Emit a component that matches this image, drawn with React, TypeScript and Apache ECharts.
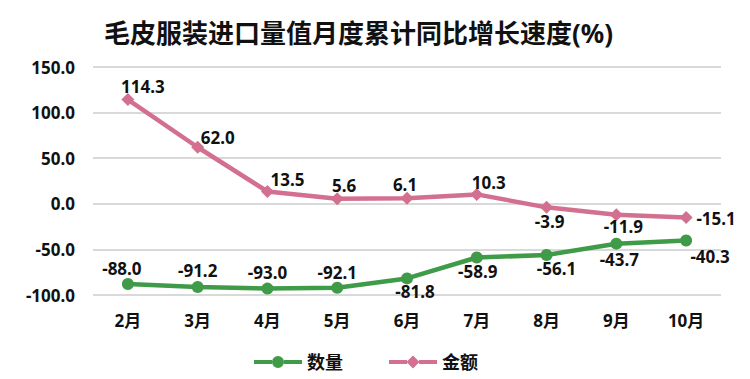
import React, { useEffect, useRef } from "react";
import * as echarts from "echarts";

const categories = ["2月", "3月", "4月", "5月", "6月", "7月", "8月", "9月", "10月"];
const quantity = [-88.0, -91.2, -93.0, -92.1, -81.8, -58.9, -56.1, -43.7, -40.3];
const amount = [114.3, 62.0, 13.5, 5.6, 6.1, 10.3, -3.9, -11.9, -15.1];
const seriesNames = ["数量", "金额"];
const titleText = "毛皮服装进口量值月度累计同比增长速度(%)";

const FONT = "'Noto Sans', 'Noto Sans CJK SC', sans-serif";
const GREEN = "#3f9b48";
const PINK = "#d3708f";

// label centre offsets from each point (styling, not data)
const qOffset: [number, number][] = [
  [-6, -16], [0, -16], [0, -16], [0, -15], [8, 13], [1, 14], [10, 14], [3, 16], [24, 16],
];
const aOffset: [number, number][] = [
  [15, -13], [20, -10], [20, -12], [7, -13], [-2, -14], [12, -12], [3, 14], [7, 12], [30, 1],
];

const greenIcon =
  "path://M0,5 H18 V9 H0 Z M30,5 H48 V9 H30 Z M18,7 A6,6 0 1,1 30,7 A6,6 0 1,1 18,7 Z";
const pinkIcon =
  "path://M0,5 H18 V9 H0 Z M30,5 H48 V9 H30 Z M24,0.5 L30.5,7 L24,13.5 L17.5,7 Z";

export default function App() {
  const ref = useRef<HTMLDivElement>(null);
  useEffect(() => {
    const chart = echarts.init(ref.current!, null, { renderer: "svg" });
    const mk = (vals: number[], off: [number, number][]) =>
      vals.map((v, i) => ({
        value: v,
        label: { position: "inside", offset: off[i] },
      }));
    const labelStyle = {
      show: true,
      fontFamily: FONT,
      fontSize: 17,
      fontWeight: "bold",
      color: "#111",
      formatter: (p: any) => Number(p.value).toFixed(1),
    };
    chart.setOption({
      animation: false,
      title: {
        text: titleText,
        left: 99,
        top: 15,
        textStyle: { fontFamily: FONT, fontSize: 26, fontWeight: "bold", color: "#111" },
      },
      legend: {
        top: 348,
        left: 249,
        itemGap: 46,
        itemWidth: 48,
        itemHeight: 14,
        textStyle: { fontFamily: FONT, fontSize: 18, fontWeight: "bold", color: "#111" },
        data: [
          { name: seriesNames[0], icon: greenIcon, itemStyle: { color: GREEN } },
          { name: seriesNames[1], icon: pinkIcon, itemStyle: { color: PINK } },
        ],
      },
      grid: { left: 93, right: 29, top: 67, bottom: 84 },
      xAxis: {
        type: "category",
        data: categories,
        boundaryGap: true,
        axisLine: { show: false },
        axisTick: { show: false },
        axisLabel: {
          fontFamily: FONT, fontSize: 17, fontWeight: "bold", color: "#111", margin: 17,
        },
      },
      yAxis: {
        type: "value",
        min: -100,
        max: 150,
        interval: 50,
        axisLine: { show: false },
        axisTick: { show: false },
        splitLine: { lineStyle: { color: "#d9d9d9", width: 2 } },
        axisLabel: {
          fontFamily: FONT, fontSize: 17, fontWeight: "bold", color: "#111", margin: 18,
          formatter: (v: number) => v.toFixed(1),
        },
      },
      series: [
        {
          name: seriesNames[0],
          type: "line",
          data: mk(quantity, qOffset),
          symbol: "circle",
          symbolSize: 12,
          lineStyle: { color: GREEN, width: 4.5 },
          itemStyle: { color: GREEN },
          label: labelStyle,
        },
        {
          name: seriesNames[1],
          type: "line",
          data: mk(amount, aOffset),
          symbol: "diamond",
          symbolSize: 13,
          lineStyle: { color: PINK, width: 4.5 },
          itemStyle: { color: PINK },
          label: labelStyle,
        },
      ],
    });
    return () => chart.dispose();
  }, []);
  return <div ref={ref} style={{ width: 750, height: 379, margin: -8 }} />;
}
